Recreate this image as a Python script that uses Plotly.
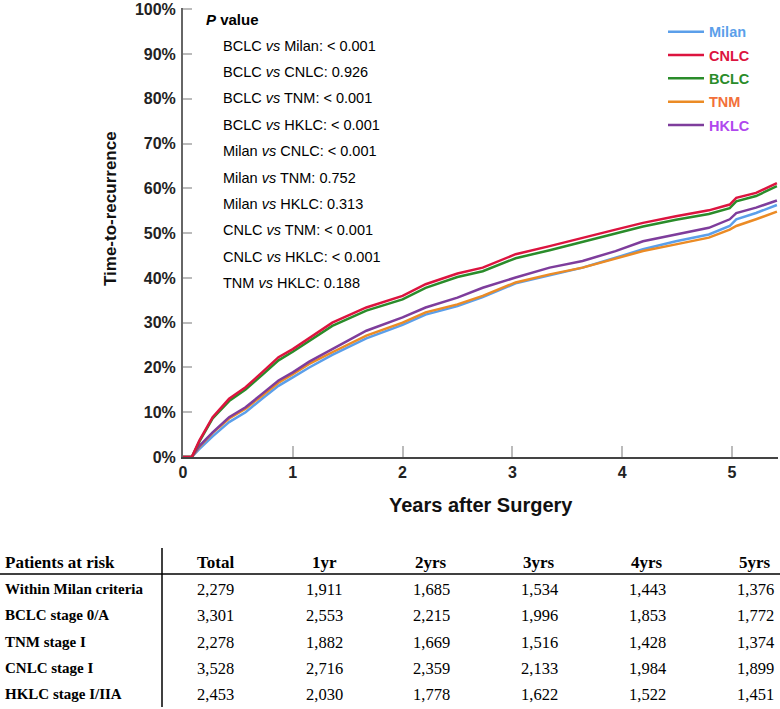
import plotly.graph_objects as go

# ---------------- data ----------------
times = [0, 0.08, 0.15, 0.27, 0.42, 0.57, 0.72, 0.87, 1.0, 1.15, 1.36, 1.67, 2.0, 2.21,
         2.5, 2.73, 3.03, 3.34, 3.64, 3.94, 4.19, 4.49, 4.79, 4.98, 5.04, 5.22, 5.41]

milan = [0, 0, 1.8, 4.6, 7.8, 10.0, 13.0, 15.9, 17.8, 20.0, 22.8, 26.5, 29.5, 31.8,
         33.7, 35.7, 38.8, 40.6, 42.3, 44.5, 46.4, 48.2, 49.7, 51.6, 53.1, 54.5, 56.3]
cnlc = [0, 0, 3.7, 8.9, 13.0, 15.6, 18.9, 22.3, 24.1, 26.5, 30.0, 33.4, 36.0, 38.6,
        41.0, 42.3, 45.3, 47.1, 49.0, 50.8, 52.3, 53.8, 55.1, 56.4, 57.9, 59.0, 61.2]
bclc = [0, 0, 3.5, 8.6, 12.5, 15.1, 18.3, 21.6, 23.5, 25.9, 29.3, 32.7, 35.2, 37.8,
        40.2, 41.5, 44.4, 46.2, 48.1, 49.9, 51.5, 53.0, 54.3, 55.6, 57.1, 58.3, 60.5]
tnm = [0, 0, 2.3, 5.4, 8.6, 10.8, 13.7, 16.6, 18.5, 20.8, 23.4, 27.1, 30.0, 32.3,
       34.1, 36.0, 39.0, 40.8, 42.3, 44.3, 46.0, 47.5, 49.0, 50.8, 51.6, 53.1, 54.8]
hklc = [0, 0, 2.5, 5.5, 8.9, 11.1, 14.1, 17.1, 18.9, 21.3, 24.1, 28.2, 31.2, 33.4,
        35.6, 37.8, 40.1, 42.3, 43.8, 46.0, 48.2, 49.7, 51.2, 53.1, 54.5, 55.7, 57.3]

y_ticks = [0, 10, 20, 30, 40, 50, 60, 70, 80, 90, 100]
y_tick_labels = [f"{v}%" for v in y_ticks]
x_ticks = [0, 1, 2, 3, 4, 5]

p_labels = [
    ("BCLC", "Milan", "< 0.001"),
    ("BCLC", "CNLC", "0.926"),
    ("BCLC", "TNM", "< 0.001"),
    ("BCLC", "HKLC", "< 0.001"),
    ("Milan", "CNLC", "< 0.001"),
    ("Milan", "TNM", "0.752"),
    ("Milan", "HKLC", "0.313"),
    ("CNLC", "TNM", "< 0.001"),
    ("CNLC", "HKLC", "< 0.001"),
    ("TNM", "HKLC", "0.188"),
]

table_cols = ["Total", "1yr", "2yrs", "3yrs", "4yrs", "5yrs"]
table_rows = ["Within Milan criteria", "BCLC stage 0/A", "TNM stage I", "CNLC stage I", "HKLC stage I/IIA"]
table_vals = [
    ["2,279", "1,911", "1,685", "1,534", "1,443", "1,376"],
    ["3,301", "2,553", "2,215", "1,996", "1,853", "1,772"],
    ["2,278", "1,882", "1,669", "1,516", "1,428", "1,374"],
    ["3,528", "2,716", "2,359", "2,133", "1,984", "1,899"],
    ["2,453", "2,030", "1,778", "1,622", "1,522", "1,451"],
]

# ---------------- layout constants ----------------
W, H = 780, 709
ML, MR, MT, MB = 183, 2, 8, 252
PW = W - ML - MR
PH = H - MT - MB


def px(x):
    return (x - ML) / PW


def py(y):
    return (H - MB - y) / PH


SANS = "Liberation Sans, Arial, sans-serif"
SERIF = "Liberation Serif, Times New Roman, serif"

series = [
    ("Milan", milan, "#5B9FEA", "#5B9FEA", 1),
    ("TNM", tnm, "#EB8B25", "#F2703A", 4),
    ("HKLC", hklc, "#7E3D9C", "#B048EE", 5),
    ("BCLC", bclc, "#2A8C2A", "#2A8C2A", 3),
    ("CNLC", cnlc, "#DC143F", "#DC143F", 2),
]

fig = go.Figure()
for name, vals, lc, tc, rank in series:
    fig.add_trace(go.Scatter(
        x=times, y=vals, mode="lines",
        line=dict(color=lc, width=2.5),
        name=f'<span style="color:{tc}"><b>{name}</b></span>',
        legendrank=rank, legendgroup=name,
        hoverinfo="skip",
    ))


def ann(x, y, text, size, family=SANS, xanchor="center", angle=0, color="#000"):
    return dict(x=px(x), y=py(y), xref="paper", yref="paper", text=text,
                xanchor=xanchor, yanchor="middle", showarrow=False, textangle=angle,
                font=dict(family=family, size=size, color=color))


annotations = []
annotations.append(ann(110, 209, "<b>Time-to-recurrence</b>", 17, angle=-90, color="#111"))
annotations.append(ann(481, 505, "<b>Years after Surgery</b>", 20, color="#111"))
annotations.append(ann(204, 19, "<b><i>P</i> value</b>", 15, xanchor="left"))
for i, (a, b, v) in enumerate(p_labels):
    annotations.append(ann(221, 45.7 + i * 26.4, f"{a} <i>vs</i> {b}: {v}", 14.5, xanchor="left"))

# table
col_x = [215, 324, 431, 539, 647, 755]
header_y = 562
row_y = [589, 615, 642, 668, 694]
annotations.append(ann(3, header_y, "<b>Patients at risk</b>", 17, family=SERIF, xanchor="left"))
for cx, c in zip(col_x, table_cols):
    annotations.append(ann(cx, header_y, f"<b>{c}</b>", 17, family=SERIF))
for ry, rname, rvals in zip(row_y, table_rows, table_vals):
    annotations.append(ann(3, ry, f"<b>{rname}</b>", 15, family=SERIF, xanchor="left"))
    for cx, v in zip(col_x, rvals):
        annotations.append(ann(cx, ry, v, 16.5, family=SERIF))

shapes = [
    dict(type="line", xref="paper", yref="paper", x0=px(0), x1=px(780), y0=py(574), y1=py(574),
         line=dict(color="#000", width=1.5)),
    dict(type="line", xref="paper", yref="paper", x0=px(162), x1=px(162), y0=py(548), y1=py(707),
         line=dict(color="#000", width=1.5)),
]

fig.update_layout(
    width=W, height=H,
    margin=dict(l=ML, r=MR, t=MT, b=MB, autoexpand=False),
    paper_bgcolor="white", plot_bgcolor="white",
    showlegend=True,
    legend=dict(x=px(663), y=py(15.7),
                xanchor="left", yanchor="top", bgcolor="rgba(0,0,0,0)",
                font=dict(family=SANS, size=14.5), tracegroupgap=1.5, itemwidth=36),
    xaxis=dict(range=[0, 5.42], tickvals=x_ticks, showgrid=False, zeroline=False,
               showline=True, linecolor="#444", linewidth=2, automargin=False,
               ticks="inside", ticklen=11, tickwidth=1.5, tickcolor="#bbb",
               tickfont=dict(family=SANS, size=16, color="#222", weight="bold")),
    yaxis=dict(range=[0, 100.3], tickvals=y_ticks, ticktext=y_tick_labels,
               showgrid=False, zeroline=False, automargin=False,
               showline=True, linecolor="#666", linewidth=2,
               ticks="inside", ticklen=9, tickwidth=1.5, tickcolor="#bbb",
               ticklabelstandoff=2,
               tickfont=dict(family=SANS, size=16, color="#222", weight="bold")),
    annotations=annotations,
    shapes=shapes,
)

fig.write_html("out.html", config={"displayModeBar": False},
               post_script="document.body.style.margin='0';")
